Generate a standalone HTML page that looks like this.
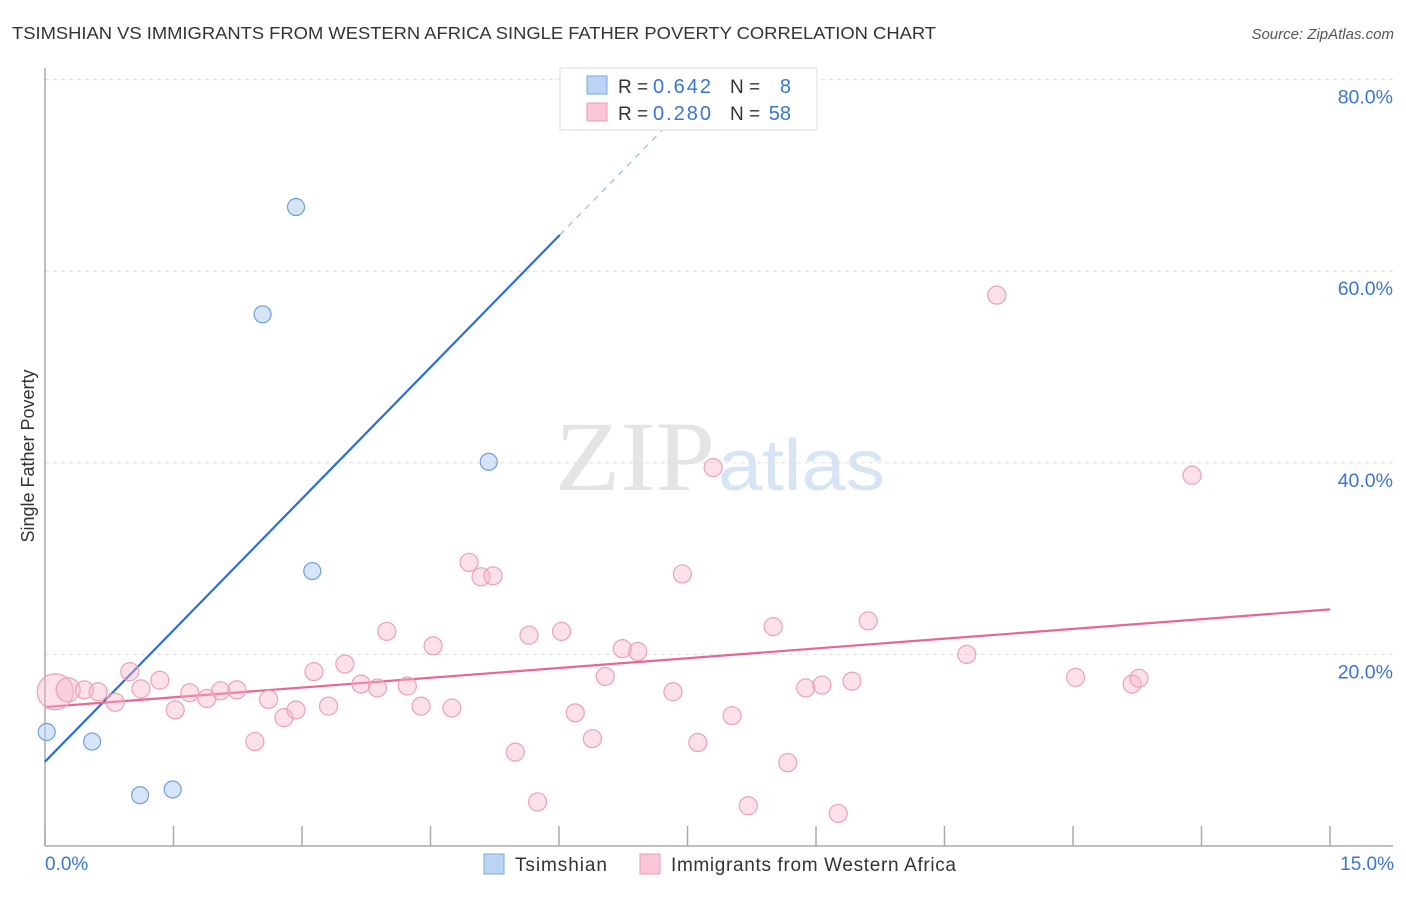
<!DOCTYPE html>
<html><head><meta charset="utf-8"><style>
body{margin:0;background:#fff;font-family:"Liberation Sans",sans-serif;}
svg text{font-family:"Liberation Sans",sans-serif;}
</style></head><body>
<svg id="chart" width="1406" height="892">
<text x="12" y="39" font-size="17.5" fill="#333" textLength="924" lengthAdjust="spacingAndGlyphs">TSIMSHIAN VS IMMIGRANTS FROM WESTERN AFRICA SINGLE FATHER POVERTY CORRELATION CHART</text>
<text x="1394" y="39" font-size="15" fill="#555" font-style="italic" text-anchor="end">Source: ZipAtlas.com</text>
<text x="555" y="490" font-size="100" fill="#e4e4e4" textLength="160" lengthAdjust="spacingAndGlyphs" style="font-family:'Liberation Serif',serif">ZIP</text>
<text x="718" y="490" font-size="72" fill="#d6e4f5" textLength="167" lengthAdjust="spacingAndGlyphs">atlas</text>
<g id="grid"></g>
<g id="axes"></g>
<g id="lines"></g>
<g id="points"></g>
<text transform="translate(34,456) rotate(-90)" font-size="18" fill="#333" text-anchor="middle">Single Father Poverty</text>
<text x="45" y="870" font-size="19" fill="#3a75d0">0.0%</text>
<text x="1394" y="870" font-size="19" fill="#3a75d0" text-anchor="end">15.0%</text>
<g>
<rect x="560" y="68" width="257" height="62" fill="#fff" stroke="#ddd"/>
<rect x="587" y="76" width="20" height="18" fill="#bcd4f4" stroke="#7aa7e0"/>
<rect x="587" y="103" width="20" height="18" fill="#f9c7d6" stroke="#ee9ab4"/>
<text x="618" y="93" font-size="19" fill="#333">R =</text>
<text x="653" y="93" font-size="20" fill="#3a75d0" textLength="58">0.642</text>
<text x="730" y="93" font-size="19" fill="#333">N =</text>
<text x="791" y="93" font-size="20" fill="#3a75d0" text-anchor="end">8</text>
<text x="618" y="120" font-size="19" fill="#333">R =</text>
<text x="653" y="120" font-size="20" fill="#3a75d0" textLength="58">0.280</text>
<text x="730" y="120" font-size="19" fill="#333">N =</text>
<text x="791" y="120" font-size="20" fill="#3a75d0" text-anchor="end">58</text>
</g>
<g>
<rect x="484" y="854" width="20" height="20" fill="#bcd4f4" stroke="#7aa7e0"/>
<text x="515" y="871" font-size="19" fill="#333" textLength="92">Tsimshian</text>
<rect x="640" y="854" width="20" height="20" fill="#f9c7d6" stroke="#ee9ab4"/>
<text x="671" y="871" font-size="19" fill="#333" textLength="285">Immigrants from Western Africa</text>
</g>
</svg>
<script>
const yTicks=[20,40,60,80];
const yTickLabels=["20.0%","40.0%","60.0%","80.0%"];
const xTicks=[0,1.5,3,4.5,6,7.5,9,10.5,12,13.5,15];
const tsX=[0.02,0.55,1.11,1.49,2.54,2.93,3.12,5.18];
const tsY=[11.9,10.9,5.3,5.9,55.5,66.7,28.7,40.1];
const waX=[0.12,0.27,0.46,0.62,0.82,0.99,1.12,1.34,1.52,1.69,1.89,2.05,2.24,2.45,2.61,2.79,2.93,3.14,3.31,3.50,3.69,3.88,3.99,4.23,4.39,4.53,4.75,4.95,5.09,5.23,5.49,5.65,5.75,6.03,6.19,6.39,6.54,6.74,6.92,7.33,7.44,7.62,7.80,8.02,8.21,8.50,8.67,8.88,9.07,9.26,9.42,9.61,10.76,11.11,12.03,12.69,12.77,13.39];
const waY=[16.1,16.3,16.3,16.1,15.0,18.2,16.4,17.3,14.2,16.0,15.4,16.2,16.3,10.9,15.3,13.4,14.2,18.2,14.6,19.0,16.9,16.5,22.4,16.7,14.6,20.9,14.4,29.6,28.1,28.2,9.8,22.0,4.6,22.4,13.9,11.2,17.7,20.6,20.3,16.1,28.4,10.8,39.5,13.6,4.2,22.9,8.7,16.5,16.8,3.4,17.2,23.5,20.0,57.5,17.6,16.9,17.5,38.7];
const waR=[18,12,9,9,9,9,9,9,9,9,9,9,9,9,9,9,9,9,9,9,9,9,9,9,9,9,9,9,9,9,9,9,9,9,9,9,9,9,9,9,9,9,9,9,9,9,9,9,9,9,9,9,9,9,9,9,9,9];
const tsFit=[8.8,9.15];
const waFit=[14.5,0.68];
const NS="http://www.w3.org/2000/svg";
const X=v=>45+v*(1330-45)/15;
const Y=v=>846-v*9.58;
function mk(tag,attrs,parent){const e=document.createElementNS(NS,tag);for(const k in attrs)e.setAttribute(k,attrs[k]);document.getElementById(parent).appendChild(e);return e;}
yTicks.forEach((t,i)=>{
 const g=mk('line',{x1:45,x2:1393,y1:Y(t),y2:Y(t),stroke:'#ddd','stroke-dasharray':'4,4'},'grid');
 
 
 const l=mk('text',{x:1393,y:Y(t)+24,'font-size':19.5,fill:'#3a75d0','text-anchor':'end'},'grid');
 l.textContent=yTickLabels[i];
 
 
});
const ax=mk('line',{x1:45,x2:45,y1:68,y2:846,stroke:'#aaa','stroke-width':1.5},'axes');


const bx=mk('line',{x1:45,x2:1393,y1:846,y2:846,stroke:'#aaa','stroke-width':1.5},'axes');


xTicks.forEach(t=>{
 const k=mk('line',{x1:X(t),x2:X(t),y1:826,y2:846,stroke:'#aaa','stroke-width':1.5},'axes');
 
 
});
const tsEnd=6.01;
const l1=mk('line',{x1:X(0),y1:Y(tsFit[0]),x2:X(tsEnd),y2:Y(tsFit[0]+tsFit[1]*tsEnd),stroke:'#2a6fd6','stroke-width':2.2},'lines');


const dEnd=7.25;
const l1d=mk('line',{x1:X(tsEnd),y1:Y(tsFit[0]+tsFit[1]*tsEnd),x2:X(dEnd),y2:Y(tsFit[0]+tsFit[1]*dEnd),stroke:'#9bb8e0','stroke-width':1.2,'stroke-dasharray':'6,6'},'lines');


const l2=mk('line',{x1:X(0),y1:Y(waFit[0]),x2:X(15),y2:Y(waFit[0]+waFit[1]*15),stroke:'#e8668f','stroke-width':2.2},'lines');


waX.forEach((x,i)=>{
 const c=mk('circle',{cx:X(x),cy:Y(waY[i]),r:waR[i],fill:'rgba(248,180,200,0.4)',stroke:'#eda0b8','stroke-width':1.2},'points');
 
 
});
tsX.forEach((x,i)=>{
 const c=mk('circle',{cx:X(x),cy:Y(tsY[i]),r:8.5,fill:'rgba(180,205,242,0.55)',stroke:'#6f9fdc','stroke-width':1.2},'points');
 
 
});
</script>
</body></html>
